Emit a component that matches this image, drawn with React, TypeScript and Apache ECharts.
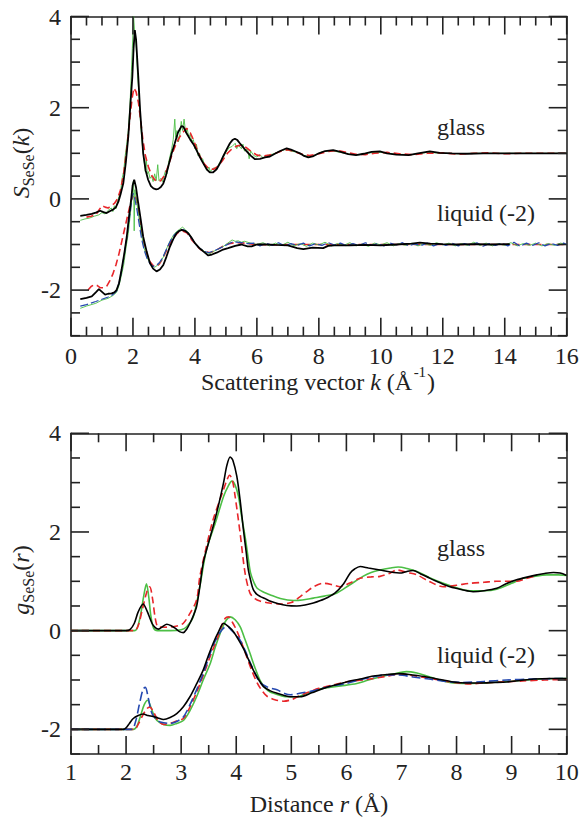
import React, { useEffect, useRef } from "react";
import * as echarts from "echarts";

// ---------- Top panel: S_SeSe(k) ----------
const kRange = [0, 16];
const sRange = [-3, 4];
const kMajorTicks = [0, 2, 4, 6, 8, 10, 12, 14, 16];
const sMajorTicks = [-2, 0, 2, 4];

const glassBlackK = [0.3, 0.5, 0.67, 0.8, 0.94, 1.05, 1.15, 1.25, 1.37, 1.45, 1.53, 1.6, 1.69, 1.77, 1.85, 1.92, 1.98, 2.02, 2.06, 2.1, 2.17, 2.23, 2.33, 2.41, 2.49, 2.58, 2.66, 2.75, 2.82, 2.9, 2.98, 3.06, 3.14, 3.25, 3.35, 3.45, 3.57, 3.63, 3.73, 3.85, 3.95, 4.05, 4.15, 4.27, 4.38, 4.48, 4.58, 4.7, 4.8, 4.91, 5.02, 5.13, 5.21, 5.29, 5.37, 5.45, 5.56, 5.67, 5.8, 5.94, 6.1, 6.26, 6.42, 6.58, 6.75, 6.96, 7.1, 7.25, 7.39, 7.5, 7.66, 7.8, 8.0, 8.2, 8.46, 8.7, 8.95, 9.2, 9.45, 9.7, 9.97, 10.2, 10.5, 10.9, 11.2, 11.58, 11.9, 12.3, 12.8, 13.3, 13.8, 14.3, 14.8, 15.3, 15.8, 16.0];
const glassBlackS = [-0.37, -0.35, -0.33, -0.3, -0.26, -0.29, -0.31, -0.27, -0.23, -0.18, -0.06, 0.1, 0.35, 0.8, 1.37, 2.1, 2.68, 3.3, 3.7, 3.5, 2.7, 1.95, 1.0, 0.62, 0.42, 0.28, 0.23, 0.21, 0.22, 0.26, 0.34, 0.5, 0.71, 1.0, 1.22, 1.45, 1.6, 1.58, 1.44, 1.3, 1.2, 1.07, 0.93, 0.78, 0.65, 0.58, 0.58, 0.65, 0.77, 0.93, 1.08, 1.22, 1.29, 1.32, 1.29, 1.22, 1.13, 1.04, 0.95, 0.87, 0.88, 0.91, 0.93, 0.99, 1.05, 1.11, 1.08, 1.04, 1.0, 0.95, 0.91, 0.93, 1.0, 1.05, 1.07, 1.03, 0.98, 0.96, 0.99, 1.03, 1.04, 1.0, 0.97, 0.96, 1.0, 1.04, 1.01, 1.0, 0.99, 1.0, 1.0, 1.0, 1.0, 1.0, 1.0, 1.0];

const glassRedK = [0.5, 0.65, 0.8, 0.9, 1.0, 1.1, 1.2, 1.3, 1.4, 1.5, 1.6, 1.7, 1.8, 1.9, 1.97, 2.03, 2.1, 2.18, 2.25, 2.32, 2.4, 2.5, 2.6, 2.7, 2.8, 2.9, 3.0, 3.1, 3.2, 3.3, 3.4, 3.5, 3.6, 3.73, 3.85, 3.95, 4.05, 4.15, 4.3, 4.45, 4.6, 4.75, 4.9, 5.05, 5.2, 5.35, 5.5, 5.65, 5.8, 6.0, 6.2, 6.4, 6.6, 6.8, 7.0, 7.2, 7.4, 7.7, 8.0, 8.3, 8.6, 8.9, 9.2, 9.5, 9.8, 10.2, 10.6, 11.0, 11.5, 12.0, 12.5, 13.0, 13.5, 14.0, 14.5, 15.0, 15.5, 16.0];
const glassRedS = [-0.4, -0.38, -0.35, -0.25, -0.15, -0.18, -0.2, -0.15, -0.1, 0.0, 0.2, 0.55, 1.1, 1.75, 2.2, 2.43, 2.35, 2.1, 1.7, 1.3, 0.95, 0.7, 0.52, 0.42, 0.38, 0.4, 0.5, 0.65, 0.85, 1.05, 1.22, 1.35, 1.45, 1.55, 1.45, 1.3, 1.12, 0.95, 0.77, 0.66, 0.65, 0.72, 0.85, 1.0, 1.1, 1.16, 1.18, 1.13, 1.05, 0.96, 0.94, 0.96, 1.0, 1.05, 1.08, 1.04, 0.99, 0.95, 0.99, 1.04, 1.06, 1.02, 0.98, 0.97, 1.0, 1.02, 0.99, 0.97, 1.0, 1.01, 0.98, 1.0, 1.01, 0.99, 1.0, 1.0, 1.0, 1.0];

const glassGreenK = [0.3, 0.45, 0.6, 0.75, 0.9, 1.0, 1.1, 1.2, 1.3, 1.35, 1.4, 1.45, 1.5, 1.55, 1.6, 1.65, 1.7, 1.75, 1.8, 1.85, 1.9, 1.95, 1.98, 2.02, 2.06, 2.1, 2.15, 2.2, 2.25, 2.3, 2.35, 2.4, 2.43, 2.46, 2.5, 2.55, 2.6, 2.65, 2.7, 2.75, 2.8, 2.84, 2.9, 2.95, 3.0, 3.05, 3.1, 3.15, 3.2, 3.25, 3.3, 3.35, 3.38, 3.42, 3.47, 3.52, 3.56, 3.6, 3.65, 3.7, 3.75, 3.8, 3.85, 3.9, 3.95, 4.0, 4.05, 4.1, 4.15, 4.2, 4.25, 4.3, 4.35, 4.4, 4.45, 4.5, 4.6, 4.7, 4.8, 4.9, 5.0, 5.1, 5.2, 5.3, 5.35, 5.4, 5.5, 5.55, 5.6, 5.7, 5.75, 5.8, 5.9, 6.0, 6.1, 6.2, 6.3, 6.5, 6.7, 6.9, 7.1, 7.3, 7.5, 7.7, 7.9, 8.1, 8.4, 8.7, 9.0, 9.3, 9.6, 10.0, 10.5, 11.0, 11.5, 12.0, 12.5, 13.0, 13.5, 14.0, 15.0, 16.0];
const glassGreenS = [-0.47, -0.44, -0.42, -0.38, -0.35, -0.3, -0.33, -0.25, -0.2, -0.28, -0.15, -0.22, -0.05, 0.05, 0.15, 0.45, 0.6, 0.95, 1.2, 1.5, 2.0, 2.8, 3.3, 4.0, 3.6, 3.4, 2.7, 2.2, 1.6, 1.2, 0.9, 0.6, 0.9, 0.55, 0.6, 0.45, 0.5, 0.38, 0.55, 0.4, 0.75, 0.4, 0.45, 0.38, 0.5, 0.62, 0.55, 0.8, 0.95, 1.1, 1.3, 1.75, 1.35, 1.5, 1.25, 1.45, 1.7, 1.5, 1.75, 1.45, 1.55, 1.35, 1.42, 1.25, 1.3, 1.1, 1.2, 0.95, 1.0, 0.85, 0.88, 0.75, 0.72, 0.62, 0.7, 0.6, 0.68, 0.66, 0.8, 0.9, 1.02, 1.12, 1.15, 1.22, 1.1, 1.18, 1.1, 1.2, 1.05, 1.1, 0.88, 1.05, 0.95, 0.92, 0.97, 0.9, 0.95, 0.98, 1.03, 1.08, 1.05, 1.02, 0.96, 0.92, 0.97, 1.03, 1.06, 1.02, 0.98, 0.97, 1.01, 1.02, 0.98, 0.97, 1.02, 1.0, 0.99, 1.0, 1.0, 1.0, 1.0, 1.0];

const liqBlackK = [0.3, 0.5, 0.67, 0.8, 0.9, 1.0, 1.1, 1.2, 1.31, 1.4, 1.47, 1.55, 1.63, 1.72, 1.8, 1.87, 1.94, 1.99, 2.04, 2.1, 2.17, 2.25, 2.33, 2.44, 2.55, 2.65, 2.76, 2.87, 2.98, 3.08, 3.19, 3.3, 3.41, 3.5, 3.57, 3.68, 3.78, 3.9, 4.0, 4.13, 4.27, 4.43, 4.55, 4.7, 4.88, 5.07, 5.3, 5.5, 5.7, 5.83, 6.0, 6.3, 6.6, 7.0, 7.3, 7.5, 7.8, 8.14, 8.3, 8.5, 9.0, 9.5, 10.0, 10.5, 11.0, 11.26, 11.6, 12.0, 12.5, 13.0, 13.5, 14.16];
const liqBlackS = [-2.2, -2.17, -2.14, -2.05, -1.98, -2.04, -2.1, -2.08, -2.07, -2.05, -2.0, -1.85, -1.56, -1.2, -0.83, -0.4, -0.02, 0.3, 0.42, 0.25, -0.09, -0.45, -0.83, -1.15, -1.41, -1.53, -1.59, -1.55, -1.45, -1.27, -1.05, -0.88, -0.75, -0.7, -0.68, -0.7, -0.75, -0.86, -0.97, -1.07, -1.15, -1.24, -1.22, -1.18, -1.12, -1.08, -1.03, -1.0, -1.04, -1.04, -1.0, -1.0, -1.01, -1.02, -1.08, -1.1, -1.07, -1.08, -1.03, -1.02, -1.02, -1.01, -1.02, -1.0, -0.98, -0.96, -0.98, -0.99, -1.0, -0.99, -1.0, -0.99];

const liqGreenK = [0.3, 0.5, 0.8, 1.0, 1.2, 1.35, 1.47, 1.55, 1.62, 1.7, 1.78, 1.85, 1.92, 1.96, 2.0, 2.02, 2.04, 2.06, 2.1, 2.15, 2.2, 2.28, 2.35, 2.42, 2.5, 2.6, 2.7, 2.8, 2.9, 3.0, 3.1, 3.2, 3.3, 3.4, 3.5, 3.6, 3.7, 3.8, 3.9, 4.0, 4.1, 4.2, 4.3, 4.4, 4.5, 4.6, 4.7, 4.8, 4.9, 5.0, 5.1, 5.2, 5.3, 5.4, 5.5, 5.6, 5.8, 6.0, 6.2, 6.4, 6.6, 6.8, 7.0, 7.2, 7.4, 7.6, 7.8, 8.0, 8.2, 8.4, 8.6, 8.8, 9.0, 9.2, 9.4, 9.6, 9.8, 10.0, 10.2, 10.4, 10.6, 10.8, 11.0, 11.2, 11.4, 11.6, 11.8, 12.0, 12.2, 12.4, 12.6, 12.8, 13.0, 13.2, 13.4, 13.6, 13.8, 14.0, 14.2, 14.4, 14.6, 14.8, 15.0, 15.2, 15.4, 15.6, 15.8, 16.0];
const liqGreenS = [-2.4, -2.35, -2.29, -2.22, -2.18, -2.12, -2.05, -1.9, -1.7, -1.45, -1.05, -0.75, -0.3, 0.0, 0.35, 0.4, -0.7, 0.2, 0.05, -0.2, -0.45, -0.8, -1.05, -1.22, -1.35, -1.45, -1.5, -1.45, -1.37, -1.25, -1.07, -0.92, -0.8, -0.72, -0.67, -0.62, -0.68, -0.75, -0.86, -0.97, -1.05, -1.1, -1.15, -1.18, -1.2, -1.15, -1.12, -1.08, -1.05, -1.0, -0.95, -0.9, -0.93, -0.92, -0.95, -0.93, -0.97, -1.0, -0.96, -1.03, -0.97, -1.02, -0.95, -1.03, -0.98, -1.04, -0.97, -1.01, -0.95, -1.03, -0.98, -1.02, -0.96, -1.03, -0.99, -1.04, -0.97, -1.01, -0.96, -1.03, -0.98, -1.02, -0.97, -1.03, -0.98, -1.02, -0.96, -1.01, -0.97, -1.03, -0.98, -1.02, -0.95, -1.02, -0.97, -1.03, -0.98, -1.02, -0.96, -1.03, -0.98, -1.02, -0.97, -1.03, -0.98, -1.02, -0.97, -1.0];

const liqBlueK = [0.3, 0.5, 0.8, 1.0, 1.2, 1.35, 1.47, 1.55, 1.62, 1.7, 1.78, 1.85, 1.92, 1.97, 2.01, 2.06, 2.12, 2.2, 2.28, 2.36, 2.45, 2.55, 2.65, 2.75, 2.85, 2.95, 3.05, 3.15, 3.25, 3.35, 3.45, 3.55, 3.65, 3.75, 3.85, 3.95, 4.05, 4.15, 4.3, 4.45, 4.6, 4.75, 4.9, 5.05, 5.2, 5.35, 5.5, 5.7, 5.9, 6.1, 6.3, 6.5, 6.7, 6.9, 7.1, 7.3, 7.5, 7.7, 7.9, 8.1, 8.3, 8.5, 8.7, 8.9, 9.1, 9.3, 9.5, 9.7, 9.9, 10.1, 10.3, 10.5, 10.7, 10.9, 11.1, 11.3, 11.5, 11.7, 11.9, 12.1, 12.3, 12.5, 12.7, 12.9, 13.1, 13.3, 13.5, 13.7, 13.9, 14.1, 14.3, 14.5, 14.7, 14.9, 15.1, 15.3, 15.5, 15.7, 15.9, 16.0];
const liqBlueS = [-2.35, -2.32, -2.25, -2.2, -2.15, -2.1, -2.02, -1.85, -1.62, -1.3, -0.95, -0.6, -0.25, 0.05, 0.12, 0.0, -0.2, -0.55, -0.88, -1.12, -1.3, -1.42, -1.48, -1.46, -1.4, -1.3, -1.15, -1.0, -0.87, -0.78, -0.72, -0.67, -0.68, -0.73, -0.82, -0.92, -1.02, -1.08, -1.15, -1.18, -1.14, -1.1, -1.05, -1.0, -0.95, -0.95, -0.96, -0.98, -0.97, -1.03, -0.97, -1.02, -0.96, -1.03, -0.98, -1.02, -0.97, -1.03, -0.98, -1.02, -0.96, -1.01, -0.97, -1.03, -0.98, -1.02, -0.96, -1.02, -0.98, -1.03, -0.97, -1.01, -0.96, -1.03, -0.99, -1.02, -0.97, -1.03, -0.98, -1.02, -0.97, -1.03, -0.98, -1.02, -0.96, -1.04, -0.98, -1.02, -0.97, -1.03, -0.95, -1.04, -0.97, -1.02, -0.96, -1.03, -0.98, -1.02, -0.97, -1.0];

const liqRedK = [0.55, 0.65, 0.75, 0.85, 0.95, 1.05, 1.15, 1.25, 1.35, 1.45, 1.55, 1.65, 1.75, 1.85, 1.95, 2.03, 2.1, 2.18, 2.27, 2.36, 2.45, 2.55, 2.65, 2.75, 2.85, 2.95, 3.05, 3.15, 3.3, 3.45, 3.6, 3.75, 3.9, 4.05, 4.2, 4.35, 4.5, 4.7, 4.9, 5.1, 5.3, 5.6, 6.0, 6.5, 7.0, 8.0, 9.0, 10.0, 11.0, 12.0, 13.0, 14.0, 15.0, 16.0];
const liqRedS = [-2.0, -1.92, -1.88, -1.9, -1.95, -1.95, -1.92, -1.8, -1.65, -1.45, -1.2, -0.9, -0.6, -0.3, -0.02, 0.1, 0.0, -0.25, -0.65, -1.0, -1.22, -1.38, -1.46, -1.48, -1.43, -1.32, -1.18, -1.03, -0.85, -0.74, -0.7, -0.75, -0.9, -1.02, -1.12, -1.16, -1.18, -1.12, -1.04, -0.98, -0.96, -0.97, -1.0, -1.01, -1.0, -1.0, -1.0, -1.0, -1.0, -1.0, -1.0, -1.0, -1.0, -1.0];

// ---------- Bottom panel: g_SeSe(r) ----------
const rRange = [1, 10];
const gRange = [-2.5, 4];
const rMajorTicks = [1, 2, 3, 4, 5, 6, 7, 8, 9, 10];
const gMajorTicks = [-2, 0, 2, 4];

const gGlassBlackR = [1.0, 2.0, 2.07, 2.15, 2.22, 2.31, 2.38, 2.47, 2.53, 2.59, 2.66, 2.74, 2.82, 2.89, 2.97, 3.04, 3.1, 3.16, 3.22, 3.28, 3.34, 3.4, 3.49, 3.58, 3.68, 3.77, 3.83, 3.89, 3.94, 4.01, 4.07, 4.13, 4.18, 4.22, 4.27, 4.31, 4.37, 4.44, 4.52, 4.61, 4.75, 4.92, 5.1, 5.25, 5.4, 5.6, 5.79, 5.95, 6.07, 6.15, 6.25, 6.4, 6.61, 6.8, 7.0, 7.1, 7.21, 7.35, 7.52, 7.7, 7.88, 8.1, 8.3, 8.5, 8.73, 8.9, 9.09, 9.3, 9.46, 9.6, 9.76, 9.88, 10.0];
const gGlassBlackG = [0, 0, 0.02, 0.15, 0.38, 0.54, 0.4, 0.15, 0.06, 0.03, 0.08, 0.13, 0.1, 0.05, -0.02, -0.04, 0.03, 0.15, 0.3, 0.49, 0.9, 1.37, 1.75, 2.11, 2.55, 3.0, 3.35, 3.52, 3.45, 3.13, 2.65, 2.05, 1.6, 1.23, 0.98, 0.83, 0.74, 0.69, 0.65, 0.6, 0.55, 0.51, 0.5, 0.52, 0.56, 0.64, 0.76, 0.95, 1.17, 1.25, 1.3, 1.27, 1.23, 1.19, 1.17, 1.2, 1.22, 1.15, 1.06, 0.97, 0.89, 0.83, 0.79, 0.81, 0.86, 0.95, 1.03, 1.09, 1.13, 1.16, 1.18, 1.17, 1.12];

const gGlassGreenR = [1.0, 2.15, 2.2, 2.26, 2.32, 2.37, 2.41, 2.45, 2.5, 2.57, 2.8, 3.0, 3.1, 3.22, 3.34, 3.46, 3.62, 3.77, 3.85, 3.92, 3.98, 4.04, 4.1, 4.17, 4.22, 4.26, 4.32, 4.38, 4.5, 4.61, 4.8, 5.04, 5.2, 5.4, 5.6, 5.82, 6.05, 6.3, 6.45, 6.61, 6.8, 6.94, 7.1, 7.28, 7.5, 7.76, 8.0, 8.24, 8.5, 8.73, 9.0, 9.21, 9.4, 9.64, 9.85, 10.0];
const gGlassGreenG = [0, 0, 0.05, 0.3, 0.7, 0.95, 0.7, 0.3, 0.05, 0.0, 0.0, 0.02, 0.08, 0.28, 0.9, 1.64, 2.18, 2.72, 2.92, 3.03, 2.95, 2.72, 2.3, 1.84, 1.45, 1.17, 0.98, 0.86, 0.78, 0.73, 0.65, 0.61, 0.62, 0.66, 0.7, 0.76, 0.92, 1.1, 1.18, 1.23, 1.27, 1.29, 1.26, 1.2, 1.08, 0.96, 0.87, 0.81, 0.81, 0.84, 0.96, 1.06, 1.1, 1.13, 1.13, 1.12];

const gGlassRedR = [1.0, 2.15, 2.22, 2.3, 2.38, 2.43, 2.48, 2.53, 2.58, 2.7, 2.85, 2.95, 3.04, 3.16, 3.28, 3.34, 3.46, 3.58, 3.77, 3.83, 3.88, 3.93, 3.98, 4.07, 4.16, 4.25, 4.34, 4.43, 4.6, 4.8, 5.0, 5.15, 5.28, 5.42, 5.58, 5.75, 5.89, 6.05, 6.25, 6.45, 6.61, 6.8, 6.91, 7.1, 7.28, 7.5, 7.76, 8.0, 8.24, 8.5, 8.73, 9.09, 9.25, 9.4];
const gGlassRedG = [0, 0, 0.1, 0.45, 0.8, 0.89, 0.65, 0.25, 0.08, 0.07, 0.08, 0.1, 0.15, 0.35, 0.62, 1.1, 1.71, 2.25, 2.86, 3.05, 3.15, 3.05, 2.72, 1.98, 1.17, 0.76, 0.65, 0.6, 0.56, 0.54, 0.57, 0.68, 0.79, 0.9, 0.96, 0.93, 0.89, 0.96, 1.06, 1.09, 1.1, 1.17, 1.23, 1.18, 1.13, 1.0, 0.89, 0.92, 0.96, 0.98, 1.0, 1.0, 1.05, 1.1];

const gLiqBlackR = [1.0, 1.95, 2.0, 2.06, 2.13, 2.22, 2.31, 2.4, 2.49, 2.58, 2.68, 2.8, 2.92, 3.04, 3.16, 3.28, 3.4, 3.49, 3.58, 3.68, 3.77, 3.86, 3.95, 4.04, 4.13, 4.22, 4.31, 4.4, 4.5, 4.62, 4.74, 4.86, 4.98, 5.16, 5.37, 5.58, 5.8, 6.0, 6.25, 6.49, 6.73, 6.97, 7.2, 7.46, 7.7, 7.94, 8.2, 8.43, 8.67, 8.91, 9.15, 9.4, 9.7, 10.0];
const gLiqBlackG = [-2, -2, -1.97, -1.88, -1.78, -1.72, -1.69, -1.72, -1.74, -1.77, -1.8, -1.76, -1.68, -1.54, -1.34, -1.08, -0.8, -0.52, -0.26, -0.02, 0.15, 0.08, -0.02, -0.18, -0.36, -0.58, -0.8, -0.98, -1.14, -1.22, -1.27, -1.31, -1.34, -1.34, -1.26, -1.17, -1.1, -1.04, -0.98, -0.92, -0.89, -0.87, -0.9, -0.94, -0.99, -1.04, -1.06, -1.06, -1.05, -1.04, -1.01, -0.98, -0.97, -0.97];

const gLiqGreenR = [1.0, 2.13, 2.2, 2.27, 2.33, 2.39, 2.45, 2.5, 2.56, 2.68, 2.8, 2.92, 3.04, 3.16, 3.28, 3.4, 3.53, 3.62, 3.71, 3.8, 3.89, 3.98, 4.07, 4.16, 4.25, 4.34, 4.43, 4.52, 4.61, 4.76, 4.92, 5.1, 5.3, 5.58, 5.9, 6.19, 6.4, 6.61, 6.85, 7.09, 7.28, 7.46, 7.7, 7.94, 8.2, 8.5, 8.75, 9.03, 9.4, 9.88, 10.0];
const gLiqGreenG = [-2, -2, -1.93, -1.7, -1.5, -1.41, -1.55, -1.7, -1.82, -1.9, -1.92, -1.88, -1.82, -1.62, -1.34, -1.0, -0.66, -0.33, -0.05, 0.18, 0.28, 0.22, 0.08, -0.18, -0.46, -0.75, -1.0, -1.15, -1.24, -1.3, -1.34, -1.34, -1.26, -1.17, -1.12, -1.07, -1.0, -0.94, -0.88, -0.83, -0.86, -0.92, -1.0, -1.06, -1.07, -1.06, -1.04, -1.02, -0.99, -0.97, -0.97];

const gLiqBlueR = [1.0, 2.1, 2.17, 2.24, 2.31, 2.35, 2.4, 2.47, 2.55, 2.62, 2.8, 2.92, 3.04, 3.16, 3.28, 3.4, 3.49, 3.58, 3.68, 3.77, 3.84, 3.92, 4.01, 4.07, 4.16, 4.25, 4.34, 4.43, 4.58, 4.74, 4.89, 4.98, 5.2, 5.4, 5.7, 6.0, 6.35, 6.73, 6.95, 7.21, 7.5, 7.8, 8.1, 8.5, 8.91, 9.4, 9.88, 10.0];
const gLiqBlueG = [-2, -2, -1.85, -1.5, -1.18, -1.15, -1.35, -1.68, -1.8, -1.85, -1.88, -1.84, -1.75, -1.5, -1.2, -0.87, -0.58, -0.3, -0.08, 0.05, 0.08, 0.0, -0.1, -0.19, -0.4, -0.64, -0.86, -1.05, -1.15, -1.2, -1.28, -1.3, -1.26, -1.22, -1.13, -1.07, -0.97, -0.9, -0.9, -0.94, -0.98, -1.03, -1.05, -1.03, -1.0, -0.98, -0.97, -0.97];

const gLiqRedR = [1.0, 2.15, 2.22, 2.3, 2.38, 2.43, 2.5, 2.58, 2.68, 2.8, 2.92, 3.04, 3.16, 3.28, 3.37, 3.46, 3.55, 3.65, 3.73, 3.8, 3.86, 3.93, 4.01, 4.1, 4.19, 4.28, 4.38, 4.47, 4.56, 4.7, 4.86, 5.0, 5.15, 5.28, 5.5, 5.76, 6.05, 6.37, 6.7, 6.97, 7.25, 7.58, 7.9, 8.24, 8.5, 8.8, 9.2, 9.6, 10.0];
const gLiqRedG = [-2, -2, -1.9, -1.72, -1.58, -1.55, -1.65, -1.82, -1.9, -1.88, -1.83, -1.78, -1.55, -1.25, -1.0, -0.73, -0.45, -0.18, 0.08, 0.25, 0.28, 0.17, 0.0, -0.25, -0.53, -0.8, -1.06, -1.22, -1.33, -1.4, -1.43, -1.4, -1.32, -1.26, -1.17, -1.1, -1.03, -0.99, -0.93, -0.88, -0.92, -0.98, -1.04, -1.08, -1.06, -1.04, -1.02, -1.0, -0.99];

// ---------- styling ----------
const FONT = "Liberation Serif";
const AX = "#222";
const BLACK = "#000000";
const GREEN = "#4cbf45";
const RED = "#e8262a";
const BLUE = "#2448b0";
const MAJOR_LEN = 18;
const MINOR_LEN = 9;

const zip = (xs: number[], ys: number[]) => xs.map((x, i) => [x, ys[i]]);

// every half-unit tick of an axis range: [value, length]
function tickItems(lo: number, hi: number, majors: number[]) {
  const out: number[][] = [];
  for (let i = 0; lo + i * 0.5 <= hi + 1e-9; i++) {
    const v = Math.round((lo + i * 0.5) * 100) / 100;
    const isMajor = majors.some((m) => Math.abs(m - v) < 1e-9);
    out.push([v, isMajor ? MAJOR_LEN : MINOR_LEN]);
  }
  return out;
}

// inward ticks on all four sides, positioned through the grid's own scales
function tickGraphics(chart: any, gridIndex: number, xr: number[], yr: number[], xMaj: number[], yMaj: number[]) {
  const els: any[] = [];
  const px = (x: number, y: number) => chart.convertToPixel({ gridIndex }, [x, y]) as number[];
  const mk = (x1: number, y1: number, x2: number, y2: number) => ({
    type: "line",
    silent: true,
    z: 100,
    shape: { x1, y1, x2, y2 },
    style: { stroke: AX, lineWidth: 1.6 },
  });
  for (const [v, len] of tickItems(xr[0], xr[1], xMaj)) {
    const b = px(v, yr[0]);
    const t = px(v, yr[1]);
    if (b && t) {
      els.push(mk(b[0], b[1], b[0], b[1] - len));
      els.push(mk(t[0], t[1], t[0], t[1] + len));
    }
  }
  for (const [v, len] of tickItems(yr[0], yr[1], yMaj)) {
    const l = px(xr[0], v);
    const r = px(xr[1], v);
    if (l && r) {
      els.push(mk(l[0], l[1], l[0] + len, l[1]));
      els.push(mk(r[0], r[1], r[0] - len, r[1]));
    }
  }
  return els;
}

function axLine() {
  return { show: true, onZero: false, lineStyle: { color: AX, width: 1.6 } };
}

function xAxes(grid: number, r: number[], interval: number, margin: number) {
  const mk = (position: string, showLabel: boolean) => ({
    type: "value",
    gridIndex: grid,
    min: r[0],
    max: r[1],
    interval,
    position,
    axisLine: axLine(),
    axisTick: { show: false },
    splitLine: { show: false },
    axisLabel: showLabel ? { show: true, fontSize: 24, fontFamily: FONT, color: AX, margin } : { show: false },
  });
  return [mk("bottom", true), mk("top", false)];
}

function yAxes(grid: number, r: number[], majors: number[]) {
  const mk = (position: string, showLabel: boolean) => ({
    type: "value",
    gridIndex: grid,
    min: r[0],
    max: r[1],
    interval: 0.5,
    position,
    axisLine: axLine(),
    axisTick: { show: false },
    splitLine: { show: false },
    axisLabel: showLabel
      ? { show: true, customValues: majors, fontSize: 24, fontFamily: FONT, color: AX, margin: 10 }
      : { show: false },
  });
  return [mk("left", true), mk("right", false)];
}

function line(name: string, xi: number, yi: number, data: number[][], color: string, width: number, dashed?: number[], smooth?: number) {
  return {
    name,
    type: "line",
    xAxisIndex: xi,
    yAxisIndex: yi,
    data,
    showSymbol: false,
    smooth: smooth || false,
    lineStyle: { color, width, type: dashed ? dashed : "solid" },
  };
}

const annot = (text: string, x: number, y: number) => ({
  type: "text",
  x,
  y,
  style: { text, fontSize: 24, fontFamily: FONT, fill: AX, align: "center", verticalAlign: "middle" },
});

type Piece = { t: string; italic?: boolean; size: number; dy: number; gap?: number };

function titleGroup(pieces: Piece[], cx: number, cy: number, rotation: number) {
  const ctx = document.createElement("canvas").getContext("2d") as CanvasRenderingContext2D;
  const widths = pieces.map((p) => {
    ctx.font = `${p.italic ? "italic " : ""}${p.size}px ${FONT}`;
    return ctx.measureText(p.t).width + (p.gap || 0);
  });
  const total = widths.reduce((a, b) => a + b, 0);
  let x = -total / 2;
  const children = pieces.map((p, i) => {
    const el = {
      type: "text",
      x: x + (p.gap || 0),
      y: p.dy,
      style: {
        text: p.t,
        fontSize: p.size,
        fontFamily: FONT,
        fontStyle: p.italic ? "italic" : "normal",
        fill: AX,
        align: "left",
        verticalAlign: "middle",
      },
    };
    x += widths[i];
    return el;
  });
  return { type: "group", x: cx, y: cy, rotation, children };
}

export default function App() {
  const ref = useRef<HTMLDivElement>(null);
  useEffect(() => {
    if (!ref.current) return;
    const chart = echarts.init(ref.current, null, { renderer: "svg" });
    const texts = [
      annot("glass", 461, 127),
      annot("liquid (-2)", 486, 213),
      annot("glass", 461, 548),
      annot("liquid (-2)", 486, 655),
      titleGroup(
        [
          { t: "Scattering vector ", size: 24, dy: 0 },
          { t: "k", italic: true, size: 24, dy: 0 },
          { t: " (Å", size: 24, dy: 0 },
          { t: "-1", size: 15, dy: -10, gap: 1.5 },
          { t: ")", size: 24, dy: 0, gap: 1 },
        ],
        318, 382, 0
      ),
      titleGroup(
        [
          { t: "Distance ", size: 24, dy: 0 },
          { t: "r", italic: true, size: 24, dy: 0 },
          { t: " (Å)", size: 24, dy: 0 },
        ],
        319, 804, 0
      ),
      titleGroup(
        [
          { t: "S", italic: true, size: 24, dy: 0 },
          { t: "SeSe", size: 16, dy: 7 },
          { t: "(", size: 24, dy: 0 },
          { t: "k", italic: true, size: 24, dy: 0 },
          { t: ")", size: 24, dy: 0 },
        ],
        21, 163, Math.PI / 2
      ),
      titleGroup(
        [
          { t: "g", italic: true, size: 24, dy: 0 },
          { t: "SeSe", size: 16, dy: 7 },
          { t: "(", size: 24, dy: 0 },
          { t: "r", italic: true, size: 24, dy: 0 },
          { t: ")", size: 24, dy: 0 },
        ],
        21, 580, Math.PI / 2
      ),
    ];
    const option = {
      animation: false,
      grid: [
        { left: 71, top: 16.5, width: 495.7, height: 319.2 },
        { left: 71, top: 433.3, width: 495.7, height: 320.7 },
      ],
      xAxis: [...xAxes(0, kRange, 2, 8), ...xAxes(1, rRange, 1, 6)],
      yAxis: [...yAxes(0, sRange, sMajorTicks), ...yAxes(1, gRange, gMajorTicks)],
      series: [
        line("glass green", 0, 0, zip(glassGreenK, glassGreenS), GREEN, 0.9),
        line("glass red", 0, 0, zip(glassRedK, glassRedS), RED, 1.6, [7, 4]),
        line("glass black", 0, 0, zip(glassBlackK, glassBlackS), BLACK, 1.8),
        line("liquid red", 0, 0, zip(liqRedK, liqRedS), RED, 1.6, [7, 4]),
        line("liquid green", 0, 0, zip(liqGreenK, liqGreenS), GREEN, 0.9),
        line("liquid blue", 0, 0, zip(liqBlueK, liqBlueS), BLUE, 1.2, [8, 3]),
        line("liquid black", 0, 0, zip(liqBlackK, liqBlackS), BLACK, 1.8),
        line("g glass green", 2, 2, zip(gGlassGreenR, gGlassGreenG), GREEN, 1.6, undefined, 0.3),
        line("g glass red", 2, 2, zip(gGlassRedR, gGlassRedG), RED, 1.6, [7, 4], 0.3),
        line("g glass black", 2, 2, zip(gGlassBlackR, gGlassBlackG), BLACK, 1.6, undefined, 0.3),
        line("g liquid green", 2, 2, zip(gLiqGreenR, gLiqGreenG), GREEN, 1.6, undefined, 0.3),
        line("g liquid red", 2, 2, zip(gLiqRedR, gLiqRedG), RED, 1.6, [7, 4], 0.3),
        line("g liquid blue", 2, 2, zip(gLiqBlueR, gLiqBlueG), BLUE, 1.6, [9, 4], 0.3),
        line("g liquid black", 2, 2, zip(gLiqBlackR, gLiqBlackG), BLACK, 1.6, undefined, 0.3),
      ],
      graphic: texts,
    };
    chart.setOption(option as any);
    const ticks = [
      ...tickGraphics(chart, 0, kRange, sRange, kMajorTicks, sMajorTicks),
      ...tickGraphics(chart, 1, rRange, gRange, rMajorTicks, gMajorTicks),
    ];
    chart.setOption({ graphic: [...texts, ...ticks] } as any);
    return () => chart.dispose();
  }, []);
  return <div ref={ref} style={{ position: "fixed", left: 0, top: 0, width: 582, height: 817, background: "#fff" }} />;
}
